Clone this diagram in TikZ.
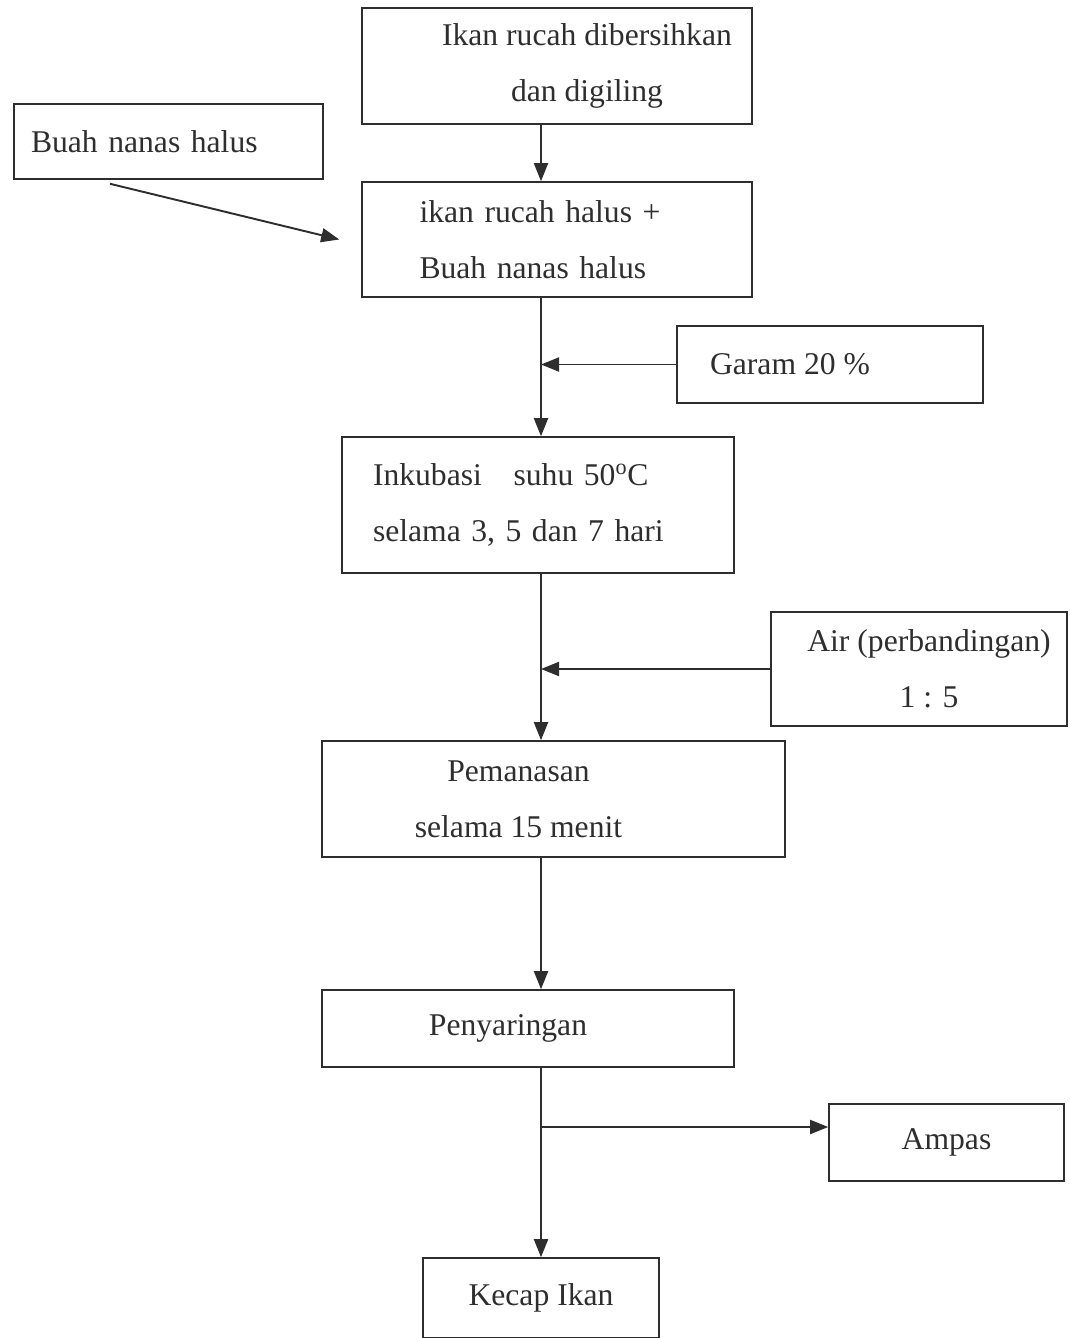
\documentclass[tikz,border=0pt]{standalone}
\usepackage{fontspec}
\setmainfont{Liberation Serif}
\usepackage{tikz}
\usetikzlibrary{arrows.meta,positioning,calc}

\begin{document}
\begin{tikzpicture}[>={Triangle[length=3.6mm,width=2.8mm]},
   font=\fontsize{18}{32}\selectfont,color=black!82,line width=0.9pt,
   stage/.style={draw,align=center,inner sep=2pt},
   flow/.style={->,line width=1.1pt}]
  \useasboundingbox (0,0) rectangle (21.38,-26.76);
  \coordinate (spine) at (10.82,0);
  % main column
  \node[stage,minimum width=7.8cm,minimum height=2.32cm] (clean) at (11.14,-1.32) {\hspace*{1.2cm}Ikan rucah dibersihkan\\\hspace*{1.2cm}dan digiling};
  \node[stage,minimum width=7.8cm,minimum height=2.3cm,text width=5.5cm,align=left] (mix) at (11.14,-4.79) {ikan rucah halus +\\Buah nanas halus};
  \node[stage,minimum width=7.84cm,minimum height=2.72cm,text width=6.6cm,align=left] (incub) at (10.76,-10.1) {Inkubasi\quad suhu 50\textsuperscript{o}C\\selama 3, 5 dan 7 hari};
  \node[stage,minimum width=9.26cm,minimum height=2.32cm] (heat) at (11.07,-15.98) {Pemanasan\hspace*{1.4cm}\\selama 15 menit\hspace*{1.4cm}};
  \node[stage,minimum width=8.24cm,minimum height=1.54cm] (filter) at (10.56,-20.57) {Penyaringan\hspace*{0.8cm}};
  \node[stage,minimum width=4.72cm,minimum height=1.6cm] (sauce) at (10.82,-25.96) {Kecap Ikan};
  % side inputs and output
  \node[stage,minimum width=6.18cm,minimum height=1.5cm,text width=5.5cm,align=left] (pine) at (3.37,-2.83) {Buah nanas halus};
  \node[stage,minimum width=6.12cm,minimum height=1.54cm] (salt) at (16.6,-7.29) {Garam 20 \%\hspace*{1.6cm}};
  \node[stage,minimum width=5.92cm,minimum height=2.28cm] (water) at (18.38,-13.38) {\hspace*{0.4cm}Air (perbandingan)\\\hspace*{0.4cm}1 : 5};
  \node[stage,minimum width=4.7cm,minimum height=1.54cm] (waste) at (18.93,-22.85) {Ampas};
  \coordinate (fork) at (10.82,-22.54);
  \draw[flow] (clean.south -| spine) -- (mix.north -| spine);
  \draw[flow] ([xshift=-1.17cm,yshift=-0.08cm]pine.south) -- ([xshift=-0.44cm]mix.west);
  \draw[flow] (mix.south -| spine) -- (incub.north -| spine);
  \draw[flow] (salt.west) -- (salt.west -| spine);
  \draw[flow] (incub.south -| spine) -- (heat.north -| spine);
  \draw[flow] (water.west) -- (water.west -| spine);
  \draw[flow] (heat.south -| spine) -- (filter.north -| spine);
  \draw[flow] (filter.south -| spine) -- (sauce.north -| spine);
  \draw[flow] (fork) -- (fork -| waste.west);
\end{tikzpicture}
\end{document}
